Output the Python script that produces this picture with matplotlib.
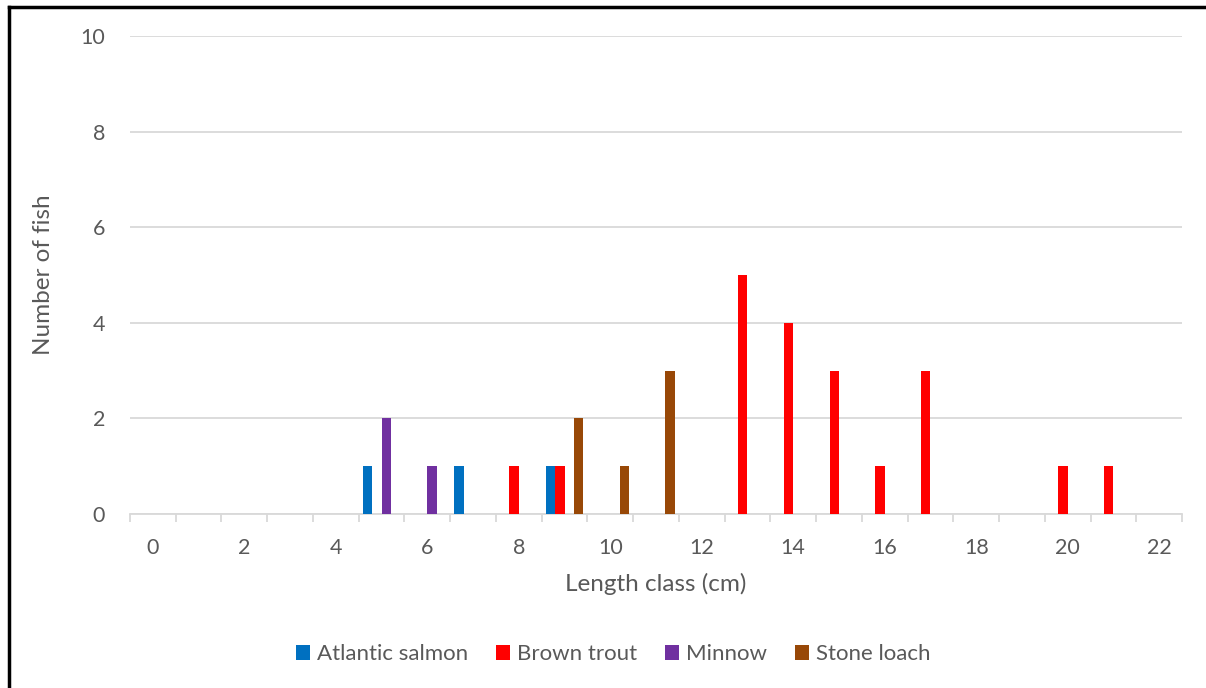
"""Length-frequency of fish caught, per species, as clustered columns."""

import matplotlib

matplotlib.use("Agg")
import matplotlib.pyplot as plt
import numpy as np
from matplotlib.lines import Line2D
from matplotlib.patches import Patch

plt.rcParams["font.family"] = ["Lato", "DejaVu Sans"]

LENGTH_CLASSES = list(range(23))  # cm
SPECIES = ["Atlantic salmon", "Brown trout", "Minnow", "Stone loach"]
ATLANTIC_SALMON = [0, 0, 0, 0, 0, 1, 0, 1, 0, 1, 0, 0, 0, 0, 0, 0, 0, 0, 0, 0, 0, 0, 0]
BROWN_TROUT = [0, 0, 0, 0, 0, 0, 0, 0, 1, 1, 0, 0, 0, 5, 4, 3, 1, 3, 0, 0, 1, 1, 0]
MINNOW = [0, 0, 0, 0, 0, 2, 1, 0, 0, 0, 0, 0, 0, 0, 0, 0, 0, 0, 0, 0, 0, 0, 0]
STONE_LOACH = [0, 0, 0, 0, 0, 0, 0, 0, 0, 2, 1, 3, 0, 0, 0, 0, 0, 0, 0, 0, 0, 0, 0]
COLORS = ["#0070C0", "#FF0000", "#7030A0", "#984807"]

GRID = "#D9D9D9"
TEXT = "#595959"

fig = plt.figure(figsize=(12.06, 6.88), dpi=100)
ax = fig.add_axes([130 / 1206, 1 - 514 / 688, 1052 / 1206, 478 / 688])

x = np.array(LENGTH_CLASSES)
width = 0.205
series = [ATLANTIC_SALMON, BROWN_TROUT, MINNOW, STONE_LOACH]
for i, (name, vals, col) in enumerate(zip(SPECIES, series, COLORS)):
    ax.bar(x + (i - 1.5) * width, vals, width, color=col, label=name, zorder=3)

ax.set_xlim(-0.5, 22.5)
ax.set_ylim(0, 10)
ax.set_yticks(range(0, 11, 2))
ax.set_xticks(range(0, 23, 2))
ax.set_xticks(np.arange(-0.5, 23, 1), minor=True)
ax.tick_params(axis="x", which="major", length=0, pad=17, labelsize=15.5, labelcolor=TEXT)
ax.tick_params(axis="x", which="minor", length=6, width=1.3, color=GRID)
ax.tick_params(axis="y", length=0, pad=18, labelsize=15.5, labelcolor=TEXT)
ax.grid(axis="y", color=GRID, lw=1.3, zorder=0)
for side in ("top", "right", "left"):
    ax.spines[side].set_visible(False)
ax.spines["bottom"].set_color(GRID)
ax.spines["bottom"].set_linewidth(1.3)

ax.set_xlabel("Length class (cm)", fontsize=17.5, color=TEXT, labelpad=11)
ax.set_ylabel("Number of fish", fontsize=17.5, color=TEXT, labelpad=19)

handles = [Patch(facecolor=c, label=n) for n, c in zip(SPECIES, COLORS)]
fig.legend(handles=handles, loc="center", bbox_to_anchor=(613 / 1206, 1 - 654 / 688),
           ncol=4, frameon=False, fontsize=16, labelcolor=TEXT, handlelength=0.65,
           handleheight=0.65, handletextpad=0.3, columnspacing=1.25)

# black frame on the left and top edges
fig.add_artist(Line2D([8.5 / 1206, 8.5 / 1206], [0, 1 - 6.5 / 688], color="black", lw=2.5))
fig.add_artist(Line2D([8.5 / 1206, 1], [1 - 6.5 / 688, 1 - 6.5 / 688], color="black", lw=2.5))

fig.savefig("out.png", dpi=100)
